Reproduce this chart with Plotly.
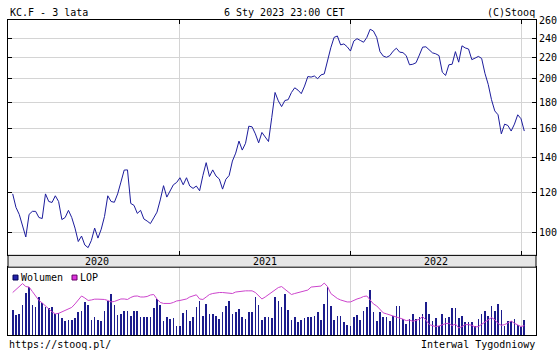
import pandas as pd
import plotly.graph_objects as go
import math

# ---- data (weekly, KC.F, 3 years) ----
start_date = "2020-01-10"
n_weeks = 157
price = [
    119, 112, 108.5, 103, 98, 108.5, 110, 110, 107, 106.5,
    119, 115, 114.5, 118, 115, 106, 107, 110.5, 107, 102,
    96, 98.4, 94.5, 93.4, 96.5, 102, 97.5, 101.5, 107.5, 118,
    115, 114.6, 119, 125.5, 132.5, 132.6, 114, 113, 109, 110.5,
    106.3, 105.3, 104.1, 106.8, 109.6, 115.8, 123.5, 117.3, 120.3, 124,
    125.3, 128, 124, 128, 123.3, 122, 123.3, 120.7, 129.3, 137,
    128.7, 132.6, 129, 127.3, 121.6, 127.1, 129.3, 138, 143, 151,
    145, 149.5, 161.5, 161, 156, 149.8, 157, 153.5, 150.7, 168,
    188, 181, 176.4, 181.3, 182, 188, 192, 190, 187, 193.5,
    202, 201.5, 202.5, 200, 203.5, 204.4, 217, 230, 241, 242.5,
    233, 234, 231, 226.6, 237, 239.6, 237.7, 235.8, 241, 250,
    248, 241, 226, 221.5, 220.3, 222, 226.5, 229.5, 225.5, 225,
    222, 213, 213.5, 215, 222.5, 230.6, 231, 228, 224.8, 223.8,
    222, 206, 203, 213, 213.5, 226, 215.5, 232, 229.8, 228.7,
    218, 219.5, 221.2, 219.2, 205, 195, 182, 173, 170, 156,
    163, 162, 158, 163, 170, 167, 158,
]
volume = [
    25, 20, 21, 30, 42, 48, 30, 28, 38, 32,
    28, 27, 28, 21, 22, 17, 14, 15, 15, 17,
    23, 24, 33, 30, 15, 18, 15, 14, 24, 34,
    41, 30, 20, 21, 24, 24, 19, 24, 24, 18,
    18, 18, 18, 27, 36, 30, 14, 18, 16, 17,
    9, 9, 22, 25, 14, 18, 28, 34, 19, 31,
    21, 21, 19, 16, 23, 29, 34, 21, 23, 26,
    18, 16, 23, 23, 38, 30, 15, 18, 18, 17,
    38, 34, 28, 41, 25, 15, 18, 13, 15, 17,
    18, 18, 19, 23, 15, 31, 48, 29, 15, 19,
    19, 13, 10, 9, 18, 20, 15, 24, 28, 45,
    23, 14, 23, 18, 18, 14, 19, 29, 29, 16,
    11, 16, 21, 16, 18, 21, 33, 21, 14, 17,
    9, 21, 17, 18, 27, 27, 17, 19, 13, 13,
    13, 9, 16, 21, 24, 19, 29, 24, 31, 25,
    9, 14, 14, 16, 10, 8, 15,
]
lop = [
    43, 46, 49.7, 52, 49, 48.5, 44, 40, 35, 32.5,
    29, 26.5, 23.5, 21.5, 22, 23.5, 25, 26, 28, 31.5,
    36, 39.5, 37.5, 35, 35.5, 36.3, 36.3, 36.3, 36, 35,
    33.5, 34, 35, 36.5, 36.5, 36, 38, 39.3, 39.5, 38.5,
    38.5, 39, 40.5, 41, 36.5, 33, 32, 32, 32, 33,
    34.5, 35, 35.7, 36.5, 38.5, 39.5, 40.7, 36.5, 36, 38.5,
    41, 42, 42.7, 43, 43, 42.8, 42, 42, 43.5, 44,
    44.5, 44.7, 44.7, 44.7, 43, 40, 36.5, 38.5, 41, 43,
    46, 48, 49, 46.5, 43.5, 41, 42, 43, 44, 44.5,
    45.5, 48.5, 49, 49.2, 49.5, 52.5, 49, 42, 39, 37,
    35.5, 34.5, 33.5, 33.5, 35.3, 36.5, 37.5, 39, 39.5, 35.5,
    31.5, 29.5, 26, 22.5, 21.5, 20.5, 19.3, 18.5, 17.5, 16.2,
    14.7, 15.3, 14, 15.3, 16, 18.7, 15.3, 10.7, 9.3, 8.7,
    9.3, 10.7, 11.7, 12, 9.7, 11.3, 7.3, 8.7, 10.7, 10.7,
    10, 8.3, 8.7, 11, 13.3, 16, 17.7, 15.7, 11.7, 10,
    10.7, 12.3, 14.3, 12, 10.3, 8.7, 9.7,
]
price_ticks = [100, 120, 140, 160, 180, 200, 220, 240, 260]
year_lines = ["2020-01-01", "2021-01-01", "2022-01-01", "2023-01-01"]
year_labels = ["2020", "2021", "2022"]
year_label_pos = ["2020-07-08", "2021-07-02", "2022-07-02"]

dates = pd.date_range(start=start_date, periods=n_weeks, freq="7D")

W, H = 560, 350
def py(px):
    return 1 - px / H
def pxx(px):
    return px / W

FONT = "DejaVu Sans Mono"
LINE_BLUE = "#1c1c9c"
BAR_BLUE = "#1c1c8c"
MAGENTA = "#cc44cc"
GRID = "#d4d4d4"
x_range = ["2019-12-31", "2023-01-31"]
xdom = [pxx(8), pxx(536)]

fig = go.Figure()
fig.add_trace(go.Scatter(x=dates, y=price, mode="lines",
                         line=dict(color=LINE_BLUE, width=1), xaxis="x", yaxis="y",
                         hoverinfo="skip"))
fig.add_trace(go.Bar(x=dates, y=volume, marker=dict(color=BAR_BLUE, line=dict(width=0)),
                     width=1.4 * 86400000, xaxis="x2", yaxis="y2", hoverinfo="skip"))
fig.add_trace(go.Scatter(x=dates, y=lop, mode="lines",
                         line=dict(color=MAGENTA, width=1), xaxis="x2", yaxis="y2",
                         hoverinfo="skip"))

fig.update_layout(
    width=W, height=H, margin=dict(l=0, r=0, t=0, b=0),
    paper_bgcolor="white", plot_bgcolor="white", showlegend=False,
    font=dict(family=FONT, size=10, color="black"),
    xaxis=dict(domain=xdom, type="date", range=x_range, anchor="y",
               tickvals=year_lines, showticklabels=False, ticks="inside", ticklen=4,
               tickcolor="black", showline=True, linecolor="black", linewidth=1,
               mirror="ticks", showgrid=True, gridcolor=GRID, gridwidth=1, zeroline=False),
    yaxis=dict(domain=[py(254), py(15)], type="log",
               range=[math.log10(90.2), math.log10(260.9)], side="right", anchor="x",
               tickvals=price_ticks, ticktext=[str(v) for v in price_ticks],
               ticks="inside", ticklen=4, tickcolor="black", showline=True,
               linecolor="black", linewidth=1, mirror="ticks", showgrid=True,
               gridcolor=GRID, gridwidth=1, zeroline=False,
               tickfont=dict(family=FONT, size=10, color="black")),
    xaxis2=dict(domain=xdom, type="date", range=x_range, anchor="y2",
                tickvals=year_lines, showticklabels=False, ticks="",
                showline=True, linecolor="black", linewidth=1, mirror=True,
                showgrid=True, gridcolor=GRID, gridwidth=1, zeroline=False),
    yaxis2=dict(domain=[py(335), py(266)], range=[0, 68.5], anchor="x2",
                showticklabels=False, ticks="", showgrid=False, zeroline=False,
                showline=True, linecolor="black", linewidth=1, mirror=True),
    bargap=0,
)

shapes = [
    dict(type="rect", xref="paper", yref="paper", x0=xdom[0], x1=xdom[1],
         y0=py(266), y1=py(254), fillcolor="#e6e6e6", line=dict(color="black", width=1),
         layer="above"),
    dict(type="rect", xref="paper", yref="paper", x0=pxx(13), x1=pxx(18),
         y0=py(279), y1=py(274), fillcolor="#2222aa", line=dict(color="#000055", width=1)),
    dict(type="rect", xref="paper", yref="paper", x0=pxx(72), x1=pxx(77),
         y0=py(279), y1=py(274), fillcolor="#dd33dd", line=dict(color="#660066", width=1)),
]
fig.update_layout(shapes=shapes)

ann = []
def txt(x, y, s, xanchor="left"):
    ann.append(dict(x=x, y=y, xref="paper", yref="paper", text=s, showarrow=False,
                    xanchor=xanchor, yanchor="middle",
                    font=dict(family=FONT, size=10, color="black")))

txt(pxx(8), py(7.5), "KC.F - 3 lata")
txt(pxx(283.5), py(7.5), "6 Sty 2023 23:00 CET", "center")
txt(pxx(537), py(7.5), "(C)Stooq", "right")
txt(pxx(7), py(344), "https://stooq.pl/")
txt(pxx(537), py(344), "Interwal Tygodniowy", "right")
txt(pxx(19), py(276.5), "Wolumen")
txt(pxx(78), py(276.5), "LOP")
for lab, pos in zip(year_labels, year_label_pos):
    ann.append(dict(x=pos, y=py(260), xref="x", yref="paper", text=lab, showarrow=False,
                    xanchor="center", yanchor="middle",
                    font=dict(family=FONT, size=10, color="black")))
fig.update_layout(annotations=ann)

fig.write_html("out.html")
